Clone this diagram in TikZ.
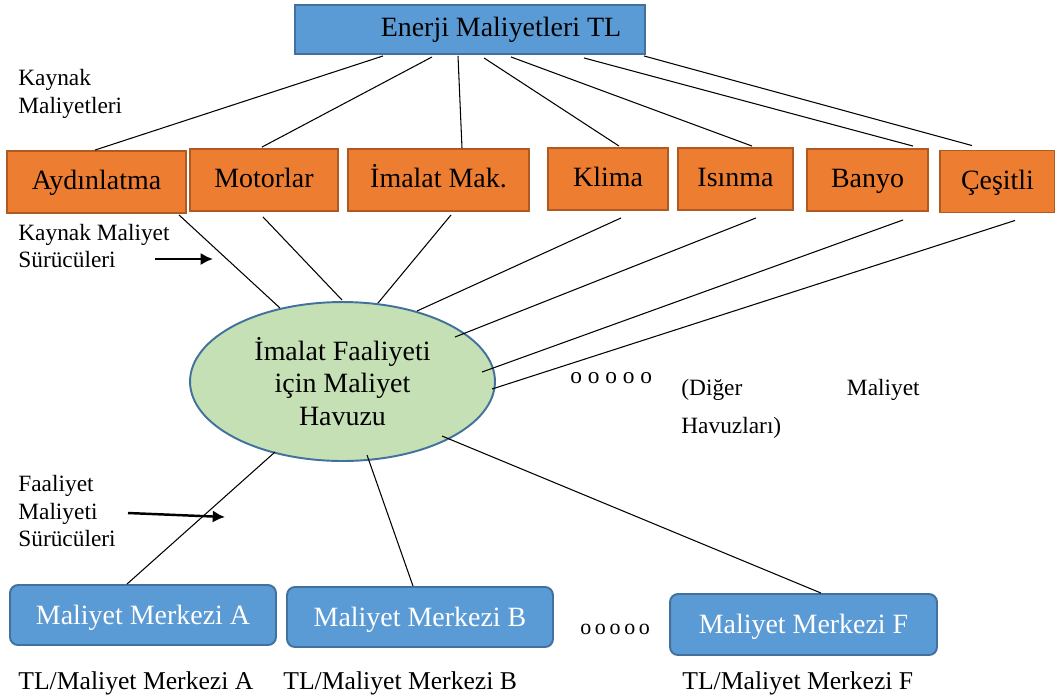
\documentclass[tikz,border=0pt]{standalone}
\usepackage{fontspec}
\setmainfont{Liberation Serif}
\usepackage{tikz}
\usetikzlibrary{calc,arrows.meta,shapes.geometric}

\definecolor{boxblue}{HTML}{5B9BD5}
\definecolor{lineblue}{HTML}{41719C}
\definecolor{boxorange}{HTML}{ED7D31}
\definecolor{lineorange}{HTML}{AE5A21}
\definecolor{poolgreen}{HTML}{C5E0B4}

\begin{document}
\begin{tikzpicture}[x=0.02cm, y=-0.02cm,
  big/.style={font=\fontsize{15.9}{18.5}\selectfont},
  small/.style={font=\fontsize{13.3}{15.6}\selectfont},
  src/.style={big, fill=boxorange, draw=lineorange, line width=1.1pt, minimum height=1.24cm, inner sep=0pt, text height=12.5pt, text depth=3.6pt},
  ctrbox/.style={big, text=white, fill=boxblue, draw=lineblue, line width=1.1pt, rounded corners=0.16cm, minimum width=5.32cm, minimum height=1.2cm, inner sep=0pt, text height=13pt, text depth=2.5pt},
  note/.style={small, align=left, inner sep=0pt, anchor=west},
  word/.style={small, inner sep=0pt},
  tag/.style={font=\fontsize{14.6}{17}\selectfont, inner sep=0pt, anchor=base west},
  link/.style={line width=0.6pt},
  drv/.style={line width=1.4pt, -{Latex[length=7pt,width=7pt]}}]
\useasboundingbox (0,0) rectangle (1055,698);

\node[big, fill=boxblue, draw=lineblue, line width=1.1pt, minimum width=7cm, minimum height=0.98cm, inner sep=0pt] (1) at (470,29.5) {\hspace*{1.24cm}Enerji Maliyetleri TL};

\node[src, minimum width=3.58cm] (2) at (96.5,182) {Aydınlatma};
\node[src, minimum width=2.96cm] (3) at (264,180) {Motorlar};
\node[src, minimum width=3.62cm] (4) at (438.5,180) {İmalat Mak.};
\node[src, minimum width=2.4cm] (5) at (608,179) {Klima};
\node[src, minimum width=2.3cm] (6) at (735.5,179) {Isınma};
\node[src, minimum width=2.42cm] (7) at (867.5,180) {Banyo};
\node[src, minimum width=2.3cm] (8) at (997.5,181.5) {Çeşitli};

\node[big, ellipse, fill=poolgreen, draw=lineblue, line width=1.1pt, minimum width=6.1cm, minimum height=3.18cm, inner sep=0pt, align=center] (9) at (342.5,381.5) {İmalat Faaliyeti\\için Maliyet\\Havuzu};

\node[ctrbox] (10) at (143,615) {Maliyet Merkezi A};
\node[ctrbox] (11) at (420,617) {Maliyet Merkezi B};
\node[ctrbox, minimum width=5.34cm, minimum height=1.22cm] (12) at (803.5,624.5) {Maliyet Merkezi F};

\node[note] (13) at (18,94) {Kaynak\\Maliyetleri};
\node[note] (14) at (18,246) {Kaynak Maliyet\\Sürücüleri};
\node[note] (15) at (18,511) {Faaliyet\\Maliyeti\\Sürücüleri};

\node[word, anchor=base west] (16) at (570,383) {o o o o o};
\node[word, anchor=base west] (17) at (681,395) {(Diğer};
\node[word, anchor=base east] (18) at (920,395) {Maliyet};
\node[word, anchor=base west] (19) at (681,433) {Havuzları)};
\node[font=\fontsize{12.5}{15}\selectfont, inner sep=0pt, anchor=base west] (20) at (580,634) {o\,o\,o\,o\,o};

\node[tag] (21) at (18,689) {TL/Maliyet Merkezi A};
\node[tag] (22) at (283,689) {TL/Maliyet Merkezi B};
\node[tag] (23) at (682,689) {TL/Maliyet Merkezi F};

\draw[link] ($(1.south)+(-87,1)$) -- ($(2.north)+(-1.5,0)$);
\draw[link] ($(1.south)+(-38,2)$) -- ($(3.north)+(-2,-1)$);
\draw[link] ($(1.south)+(-12,1)$) -- ($(4.north)+(23.5,0)$);
\draw[link] ($(1.south)+(14,3)$) -- ($(5.north)+(11,-1)$);
\draw[link] ($(1.south)+(41,2)$) -- ($(6.north)+(16.5,-1)$);
\draw[link] ($(1.south)+(114,3)$) -- ($(7.north)+(45.5,-2)$);
\draw[link] ($(1.south)+(174,1)$) -- ($(8.north)+(-25.5,-4)$);

\draw[link] ($(2.south)+(82.5,1)$) -- ($(9)+(-62.5,-73.5)$);
\draw[link] ($(3.south)+(-1,5)$) -- ($(9)+(-0.5,-81.5)$);
\draw[link] ($(4.south)+(12.5,3)$) -- ($(9)+(35.5,-78.5)$);
\draw[link] ($(5.south)+(13,7)$) -- ($(9)+(74.5,-70.5)$);
\draw[link] ($(6.south)+(20.5,7)$) -- ($(9)+(112.5,-44.5)$);
\draw[link] ($(7.south)+(35.5,8)$) -- ($(9)+(139.5,-9.5)$);
\draw[link] ($(8.south)+(17.5,7)$) -- ($(9)+(149.5,7.5)$);

\draw[link] ($(9)+(-67.5,70.5)$) -- ($(10.north)+(-16,0)$);
\draw[link] ($(9)+(24.5,73.5)$) -- ($(11.north)+(-7,0)$);
\draw[link] ($(9)+(99.5,54.5)$) -- ($(12.north)+(17.5,0)$);

\coordinate (k1) at (155,259);
\coordinate (k2) at (213,259);
\draw[drv] (k1) -- (k2);
\coordinate (f1) at (128,513);
\coordinate (f2) at (225,517);
\draw[drv] (f1) -- (f2);

\end{tikzpicture}
\end{document}
